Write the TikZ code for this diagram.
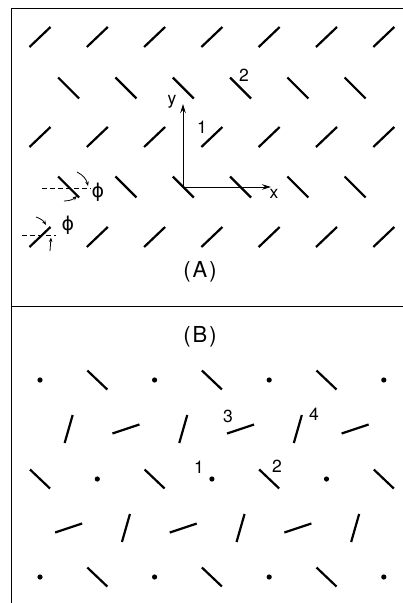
\documentclass[tikz,border=0pt]{standalone}
\usepackage{fontspec}
\setmainfont{TeX Gyre Heros}
\newfontfamily\phifont{DejaVu Sans}
\usetikzlibrary{arrows.meta}
\tikzset{
 seg/.style={line width=2.2pt},
 framerule/.style={line width=1pt},
 axis/.style={line width=1pt,-{Stealth[length=9pt,width=5.5pt]}},
 marker/.style={line width=0.8pt,-{Stealth[length=4.5pt,width=3.5pt]}},
 refline/.style={line width=0.9pt,dash pattern=on 5pt off 3pt},
 lbl/.style={font=\fontsize{17.5}{20}\selectfont,inner sep=0pt},
 ttl/.style={font=\fontsize{22}{26}\selectfont,inner sep=0pt},
 philbl/.style={font=\phifont\fontsize{19}{22}\selectfont,inner sep=0pt}
}
\begin{document}
\begin{tikzpicture}[x=1pt,y=-1pt]
\useasboundingbox (0,0) rectangle (403,603);
% frame
\draw[framerule] (11,603) -- (11,8) -- (403,8);
\draw[framerule] (11,306) -- (403,306);
% ---------- panel A ----------
\foreach \r in {37,137,237}
  \foreach \j in {0,...,6}
    \draw[seg] ({40+57.3*\j-10.5},{\r+10}) -- ++(21,-20);
\foreach \r in {88,187}
  \foreach \j in {0,...,5}
    \draw[seg] ({40+57.3*(\j+0.5)-10.5},{\r-10.5}) -- ++(21,21);
% axes
\coordinate (O) at (183,187);
\coordinate (ytip) at (183,104);
\coordinate (xtip) at (271,187);
\draw[axis] (O) -- (ytip);
\draw[axis] (O) -- (xtip);
\node[lbl] (ylab) at (172,102) {y};
\node[lbl] (xlab) at (274,194) {x};
\node[lbl] (n2a) at (244,75) {2};
\node[lbl] (n1a) at (202,127) {1};
\node[ttl] (tA) at (200,272) {(\hspace{2pt}A\hspace{2pt})};
% phi annotations
\draw[refline] (42,188) -- (91,188);
\draw[marker] (77,172) to[bend left=25] (88,186);
\draw[marker] (64,201) to[bend right=20] (77,196);
\node[philbl] (phi1) at (98,192) {ϕ};
\draw[refline] (22,235) -- (56,235);
\draw[marker] (36,217) to[bend left=20] (46,225);
\draw[marker] (50,251) -- (51,237.5);
\node[philbl] (phi2) at (68,225) {ϕ};
% ---------- panel B ----------
\node[ttl] (tB) at (200,337) {(\hspace{2pt}B\hspace{2pt})};
\foreach \r in {380,577} {
  \foreach \j in {0,2,4,6}
    \fill ({40+57.3*\j},\r) circle (2.6pt);
  \foreach \j in {1,3,5}
    \draw[seg] ({40+57.3*\j-10},{\r-9.5}) -- ++(20,19);
}
\foreach \j in {0,2,4,6}
  \draw[seg] ({40+57.3*\j-10},{479-9.5}) -- ++(20,19);
\foreach \j in {1,3,5}
  \fill ({40+57.3*\j},479) circle (2.6pt);
% row 2
\foreach \k in {0,2,4}
  \draw[seg] ({40+57.3*(\k+0.5)-4},{429+14}) -- ++(8,-28);
\foreach \k in {1,3,5}
  \draw[seg] ({40+57.3*(\k+0.5)-13.5},{429+4.5}) -- ++(27,-9);
% row 4
\foreach \k in {0,2,4}
  \draw[seg] ({40+57.3*(\k+0.5)-13.5},{528+4.5}) -- ++(27,-9);
\foreach \k in {1,3,5}
  \draw[seg] ({40+57.3*(\k+0.5)-4},{528+14}) -- ++(8,-28);
\node[lbl] (n3) at (228,416) {3};
\node[lbl] (n4) at (314,414) {4};
\node[lbl] (n1b) at (199,467) {1};
\node[lbl] (n2b) at (277,466) {2};
\end{tikzpicture}
\end{document}
